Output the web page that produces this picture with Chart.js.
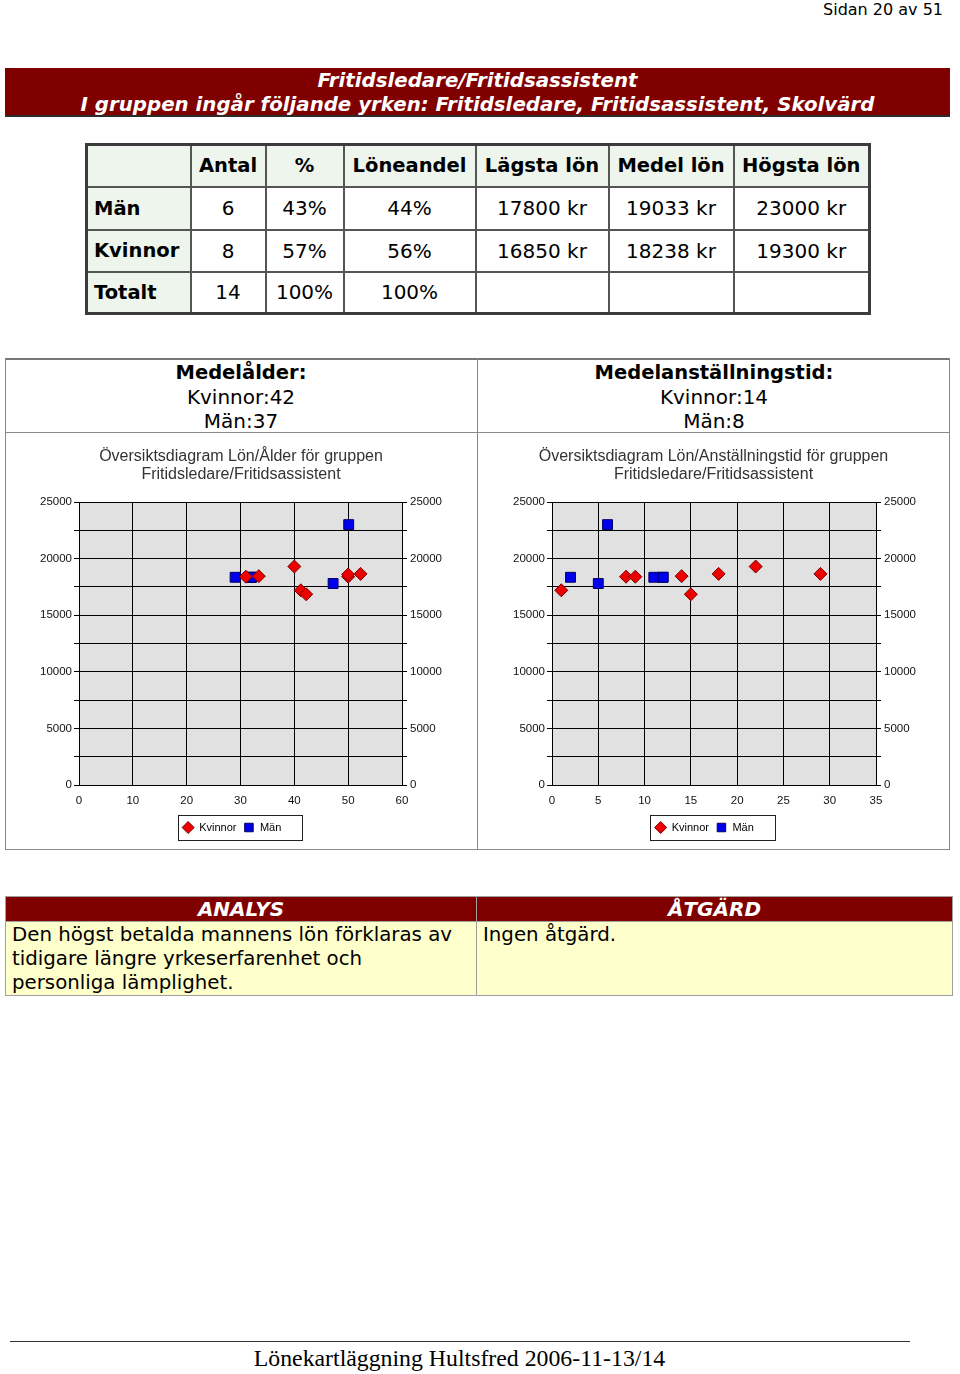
<!DOCTYPE html>
<html lang="sv">
<head>
<meta charset="utf-8">
<title>Fritidsledare/Fritidsassistent</title>
<script src="https://cdn.jsdelivr.net/npm/chart.js@4.4.1/dist/chart.umd.min.js"></script>
<style>
  html, body { margin: 0; padding: 0; background: #fff; }
  body {
    width: 960px; height: 1374px; position: relative; overflow: hidden;
    font-family: "DejaVu Sans", Verdana, sans-serif; color: #000;
  }
  .abs { position: absolute; }
  .page-no { right: 17px; top: 0; font-size: 16px; line-height: 20px; }
  .banner {
    left: 5px; top: 68px; width: 945px; height: 49px; padding-top: 1px; box-sizing: border-box;
    background: #800000; border-bottom: 2px solid #2b2b2b; color: #fff;
    font-weight: bold; font-style: italic; font-size: 19.8px; line-height: 24px; text-align: center;
  }
  table.stats {
    left: 85px; top: 143px; width: 783px; table-layout: fixed;
    border-collapse: collapse; border: 3px solid #3c3c3c;
  }
  table.stats td, table.stats th {
    border: 2px solid #555; padding: 0; text-align: center; vertical-align: middle;
    font-size: 20px; font-weight: normal; background: #fff; white-space: nowrap;
  }
  table.stats th { font-weight: bold; font-size: 19.5px; background: #edf5ec; }
  table.stats th.lab { text-align: left; padding-left: 6px; }
  .box { left: 5px; top: 358px; width: 945px; height: 492px; box-sizing: border-box;
    border: 1px solid #8a8a8a; border-top: 2px solid #777; }
  .vline { left: 477px; top: 358px; width: 1px; height: 492px; background: #8a8a8a; }
  .hline { left: 5px; top: 432px; width: 945px; height: 1px; background: #8a8a8a; }
  .stat { top: 360px; width: 472px; text-align: center; font-size: 20px; line-height: 24px; }
  .stat b { font-size: 19.5px; }
  .chartbox { top: 433px; height: 416px; }
  table.analys {
    left: 5px; top: 896px; width: 947px; table-layout: fixed; border-collapse: collapse;
  }
  table.analys th {
    background: #800000; color: #fff; font-style: italic; font-weight: bold; font-size: 20px;
    line-height: 23px; height: 24px; padding: 0; border: 1px solid #a0a0a0;
  }
  table.analys td {
    background: #ffffcc; font-size: 19.8px; line-height: 24px; height: 74px; box-sizing: border-box;
    vertical-align: top; padding: 1px 6px 0 6px; border: 1px solid #a0a0a0;
  }
  .footline { left: 10px; top: 1341px; width: 900px; height: 1px; background: #333; }
  .foot { left: 0; width: 919px; top: 1344px; text-align: center;
    font-family: "Liberation Serif", "Times New Roman", serif; font-size: 23.8px; line-height: 28px; }
</style>
</head>
<body>

<div class="abs page-no">Sidan 20 av 51</div>

<div class="abs banner">Fritidsledare/Fritidsassistent<br>I gruppen ingår följande yrken: Fritidsledare, Fritidsassistent, Skolvärd</div>

<table class="abs stats">
  <colgroup>
    <col style="width:104px"><col style="width:75px"><col style="width:78px"><col style="width:132px">
    <col style="width:133px"><col style="width:125px"><col style="width:136px">
  </colgroup>
  <tr style="height:42px"><th></th><th>Antal</th><th>%</th><th>Löneandel</th><th>Lägsta lön</th><th>Medel lön</th><th>Högsta lön</th></tr>
  <tr style="height:43px"><th class="lab">Män</th><td>6</td><td>43%</td><td>44%</td><td>17800 kr</td><td>19033 kr</td><td>23000 kr</td></tr>
  <tr style="height:42px"><th class="lab">Kvinnor</th><td>8</td><td>57%</td><td>56%</td><td>16850 kr</td><td>18238 kr</td><td>19300 kr</td></tr>
  <tr style="height:42px"><th class="lab">Totalt</th><td>14</td><td>100%</td><td>100%</td><td></td><td></td><td></td></tr>
</table>

<div class="abs box"></div>
<div class="abs vline"></div>
<div class="abs hline"></div>
<div class="abs stat" style="left:5px"><b>Medelålder:</b><br>Kvinnor:42<br>Män:37</div>
<div class="abs stat" style="left:478px"><b>Medelanställningstid:</b><br>Kvinnor:14<br>Män:8</div>

<div class="abs chartbox" style="left:6px;width:470px"><canvas id="alderChart" width="470" height="416"></canvas></div>
<div class="abs chartbox" style="left:478px;width:471px"><canvas id="tidChart" width="471" height="416"></canvas></div>

<table class="abs analys">
  <colgroup><col style="width:471px"><col style="width:476px"></colgroup>
  <tr><th>ANALYS</th><th>ÅTGÄRD</th></tr>
  <tr><td>Den högst betalda mannens lön förklaras av tidigare längre yrkeserfarenhet och personliga lämplighet.</td><td>Ingen åtgärd.</td></tr>
</table>

<div class="abs footline"></div>
<div class="abs foot">Lönekartläggning Hultsfred 2006-11-13/14</div>

<script>
// Lön/Ålder
const alderKvinnor = [31, 33.4, 40, 41.2, 42.2, 50, 50, 52.3];
const lonAlderKvinnor = [18400, 18450, 19300, 17200, 16850, 18400, 18600, 18650];
const alderMan = [29, 32, 32, 32, 47.2, 50.1];
const lonAlderMan = [18350, 18350, 18350, 18350, 17800, 23000];

// Lön/Anställningstid
const tidKvinnor = [1, 8, 9, 14, 15, 18, 22, 29];
const lonTidKvinnor = [17200, 18400, 18400, 18450, 16850, 18650, 19300, 18650];
const tidMan = [2, 5, 6, 11, 12, 12];
const lonTidMan = [18350, 17800, 23000, 18350, 18350, 18350];

// Axes
const alderTicks = [0, 10, 20, 30, 40, 50, 60];
const tidTicks = [0, 5, 10, 15, 20, 25, 30, 35];
const lonTicks = [0, 5000, 10000, 15000, 20000, 25000];
const lonGridStep = 2500;

const tickFont = { family: 'Liberation Sans, Arial, sans-serif', size: 11.5 };
const legendFont = { family: 'Liberation Sans, Arial, sans-serif', size: 11 };

const toPoints = (xs, ys) => xs.map((x, i) => ({ x: x, y: ys[i] }));

// grey plot background, like the Excel chart
const plotBackground = {
    id: 'plotBackground',
    beforeDraw(chart) {
        const a = chart.chartArea;
        const ctx = chart.ctx;
        ctx.save();
        ctx.fillStyle = '#e1e1e1';
        ctx.fillRect(a.left, a.top, a.right - a.left, a.bottom - a.top);
        ctx.restore();
    }
};

// Excel puts the legend a little left of centre; then frame it
const legendFrame = {
    id: 'legendFrame',
    afterLayout(chart, args, opts) {
        const lg = chart.legend;
        if (!lg) return;
        lg.left += opts.shift;
        lg.right += opts.shift;
    },
    afterDraw(chart) {
        const boxes = chart.legend && chart.legend.legendHitBoxes;
        if (!boxes || !boxes.length) return;
        const first = boxes[0];
        const last = boxes[boxes.length - 1];
        const cy = first.top + first.height / 2;
        const x0 = Math.round(first.left - 5);
        const x1 = Math.round(last.left + last.width + 21);
        const ctx = chart.ctx;
        ctx.save();
        ctx.strokeStyle = '#222';
        ctx.lineWidth = 1;
        ctx.strokeRect(x0 + 0.5, Math.round(cy - 12.5) + 0.5, x1 - x0, 25);
        ctx.restore();
    }
};

function yAxis(position, width) {
    return {
        type: 'linear',
        position: position,
        min: lonTicks[0],
        max: lonTicks[lonTicks.length - 1],
        afterFit: s => { s.width = width; },
        ticks: {
            stepSize: lonGridStep,
            color: '#111',
            font: tickFont,
            padding: position === 'left' ? 2 : 3,
            callback: v => (lonTicks.includes(v) ? String(v) : '')
        },
        grid: {
            color: '#000',
            lineWidth: 1,
            tickLength: 5,
            drawOnChartArea: position === 'left'
        },
        border: { color: '#000' }
    };
}

function makeChart(id, title, xTicks, kvinnor, man, leftW, rightW, legendShift) {
    const ctx = document.getElementById(id).getContext('2d');
    return new Chart(ctx, {
        type: 'scatter',
        data: {
            datasets: [
                {
                    label: 'Kvinnor',
                    data: kvinnor,
                    pointStyle: 'rectRot',
                    pointRadius: 6.5,
                    backgroundColor: '#ee0000',
                    borderColor: '#7a0000',
                    borderWidth: 1,
                    order: 0
                },
                {
                    label: 'Män',
                    data: man,
                    pointStyle: 'rect',
                    pointRadius: 7,
                    backgroundColor: '#0000ee',
                    borderColor: '#000060',
                    borderWidth: 1,
                    order: 1
                }
            ]
        },
        options: {
            responsive: false,
            animation: false,
            events: [],
            layout: { padding: { top: 0, left: 0, right: 0, bottom: 6 } },
            scales: {
                x: {
                    type: 'linear',
                    min: xTicks[0],
                    max: xTicks[xTicks.length - 1],
                    afterFit: s => { s.height = 30; },
                    ticks: {
                        stepSize: xTicks[1] - xTicks[0],
                        color: '#111',
                        font: tickFont,
                        padding: 9
                    },
                    grid: { color: '#000', lineWidth: 1, drawTicks: false },
                    border: { color: '#000' }
                },
                y: yAxis('left', leftW),
                y2: yAxis('right', rightW)
            },
            plugins: {
                title: {
                    display: true,
                    text: title,
                    color: '#333',
                    font: { family: 'Liberation Sans, Arial, sans-serif', size: 16, weight: 'normal', lineHeight: 1.125 },
                    padding: { top: 15, bottom: 18 }
                },
                legend: {
                    position: 'bottom',
                    labels: {
                        usePointStyle: true,
                        boxHeight: 8.5,
                        padding: 7,
                        color: '#000',
                        font: legendFont
                    }
                },
                legendFrame: { shift: legendShift },
                tooltip: { enabled: false }
            }
        },
        plugins: [plotBackground, legendFrame]
    });
}

makeChart('alderChart',
    ['Översiktsdiagram Lön/Ålder för gruppen', 'Fritidsledare/Fritidsassistent'],
    alderTicks,
    toPoints(alderKvinnor, lonAlderKvinnor),
    toPoints(alderMan, lonAlderMan),
    73, 74, -9);

makeChart('tidChart',
    ['Översiktsdiagram Lön/Anställningstid för gruppen', 'Fritidsledare/Fritidsassistent'],
    tidTicks,
    toPoints(tidKvinnor, lonTidKvinnor),
    toPoints(tidMan, lonTidMan),
    74, 73, -9);
</script>
</body>
</html>
